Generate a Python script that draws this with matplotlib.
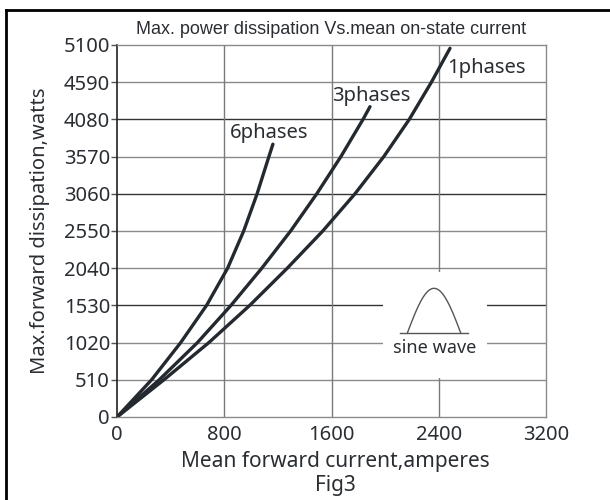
import numpy as np
import matplotlib.pyplot as plt
from matplotlib.patches import Rectangle
from matplotlib.lines import Line2D

# data
x_ticks = [0, 800, 1600, 2400, 3200]
y_ticks = [0, 510, 1020, 1530, 2040, 2550, 3060, 3570, 4080, 4590, 5100]

ph1_x = [0, 350, 685, 990, 1270, 1535, 1775, 1990, 2180, 2345, 2484]
ph1_y = [0, 510, 1020, 1530, 2040, 2550, 3060, 3570, 4080, 4590, 5055]

ph3_x = [0, 315, 600, 850, 1080, 1295, 1490, 1670, 1835, 1887]
ph3_y = [0, 510, 1020, 1530, 2040, 2550, 3060, 3570, 4080, 4254]

ph6_x = [0, 258, 475, 668, 825, 945, 1045, 1133, 1163]
ph6_y = [0, 510, 1020, 1530, 2040, 2550, 3060, 3570, 3740]

font = 'Noto Sans'
txt = '#2a2e33'
curve = '#23292f'

fig = plt.figure(figsize=(6.1, 5.0), dpi=100)
ax = fig.add_axes([117/610, 1-417/500, (546-117)/610, (417-45)/500])
ax.set_xlim(0, 3200)
ax.set_ylim(0, 5100)

# grid lines, some drawn darker like in the scan
dark = {1530, 3060, 4080}
for v in y_ticks[1:-1]:
    ax.axhline(v, color='#333333' if v in dark else '#8a8a8a', lw=1.0, zorder=1)
for v in x_ticks[1:-1]:
    ax.axvline(v, color='#7a7a7a', lw=1.0, zorder=1)

for s in ['top', 'right', 'bottom']:
    ax.spines[s].set_color('#8a8a8a')
    ax.spines[s].set_linewidth(1.0)
ax.spines['left'].set_color('#222222')
ax.spines['left'].set_linewidth(1.2)

ax.set_xticks(x_ticks)
ax.set_yticks(y_ticks)
ax.set_xticklabels([str(v) for v in x_ticks], fontfamily=font, fontsize=14.5, color=txt)
ax.set_yticklabels([str(v) for v in y_ticks], fontfamily=font, fontsize=14.5, color=txt)
ax.tick_params(axis='x', length=0, pad=6)
ax.tick_params(axis='y', length=4, width=1, color='#555555', pad=1)

# curves
for xs, ys in [(ph1_x, ph1_y), (ph3_x, ph3_y), (ph6_x, ph6_y)]:
    ax.plot(xs, ys, color=curve, lw=2.4, solid_capstyle='round', solid_joinstyle='round', zorder=4)

ax.text(843, 3894, '6phases', fontfamily=font, fontsize=14.5, color=txt, va='center', ha='left', zorder=5)
ax.text(1601, 4401, '3phases', fontfamily=font, fontsize=14.5, color=txt, va='center', ha='left', zorder=5)
ax.text(2459, 4781, '1phases', fontfamily=font, fontsize=14.5, color=txt, va='center', ha='left', zorder=5)

# sine wave inset
ax.add_patch(Rectangle((1984, 535), 2760-1984, 1988-535, facecolor='white', edgecolor='none', zorder=2))
ax.plot([2111, 2620], [1147, 1147], color='#555555', lw=1.0, zorder=3)
t = np.linspace(0, np.pi, 60)
ax.plot(2165 + (2565-2165)*t/np.pi, 1147 + (1764-1147)*np.sin(t), color='#555555', lw=1.0, zorder=3)
ax.text(2372, 942, 'sine wave', fontfamily=font, fontsize=13, color=txt, ha='center', va='center', zorder=5)

# title, axis labels
fig.text(331/610, 1-30/500, 'Max. power dissipation Vs.mean on-state current',
         fontfamily='Liberation Sans', fontsize=13, color=txt, ha='center', va='center')
fig.text(335/610, 1-462/500, 'Mean forward current,amperes', fontfamily=font, fontsize=15,
         color=txt, ha='center', va='center')
fig.text(335/610, 1-486/500, 'Fig3', fontfamily=font, fontsize=15, color=txt, ha='center', va='center')
fig.text(40/610, 1-231/500, 'Max.forward dissipation,watts', fontfamily=font, fontsize=14.5,
         color=txt, ha='center', va='center', rotation=90)

# outer frame (top and left edges)
fig.add_artist(Line2D([6/610, 1], [1-10/500, 1-10/500], transform=fig.transFigure, color='black', lw=2))
fig.add_artist(Line2D([6/610, 6/610], [1-10/500, 0], transform=fig.transFigure, color='black', lw=2))

fig.savefig('out.png', dpi=100)
